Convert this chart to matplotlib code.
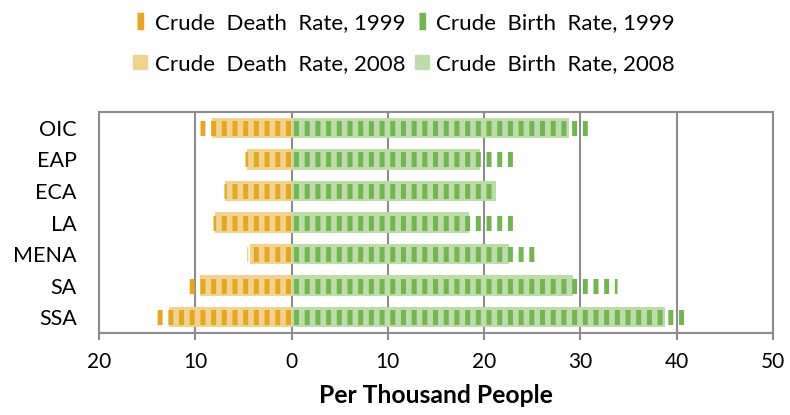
import matplotlib
matplotlib.use("Agg")
import matplotlib.pyplot as plt
from matplotlib.lines import Line2D
from matplotlib.ticker import FuncFormatter
import numpy as np

plt.rcParams['font.family'] = ['Lato', 'DejaVu Sans']
plt.rcParams['lines.scale_dashes'] = False

regiones = ['OIC', 'EAP', 'ECA', 'LA', 'MENA', 'SA', 'SSA']
muerte_1999 = [9.5, 4.8, 7.0, 8.2, 4.6, 11.0, 14.4]
muerte_2008 = [8.3, 4.6, 6.9, 7.9, 4.3, 9.5, 12.7]
natalidad_1999 = [31.1, 23.2, 20.9, 23.2, 25.5, 33.8, 41.1]
natalidad_2008 = [28.8, 19.6, 21.2, 18.4, 22.6, 29.2, 38.8]

naranja = '#E6A71E'
naranja_claro = '#F2D38E'
verde = '#72B650'
verde_claro = '#BCDCA9'
gris = '#8C8C8C'

fig = plt.figure(figsize=(7.9, 4.15), dpi=100)
ax = fig.add_axes([0.1253, 0.1976, 0.8532, 0.5325])

y = np.arange(len(regiones))

# barras 2008 (claras, detras)
ax.barh(y, [-v for v in muerte_2008], height=0.65, color=naranja_claro, zorder=2)
ax.barh(y, natalidad_2008, height=0.65, color=verde_claro, zorder=2)

# barras 1999 (rayadas, encima)
rayas = (6.6, (3.6, 4.1))
for i in range(len(regiones)):
    ax.plot([0, -muerte_1999[i]], [y[i], y[i]], color=naranja, lw=10.8,
            linestyle=rayas, dash_capstyle='butt', zorder=3)
    ax.plot([0, natalidad_1999[i]], [y[i], y[i]], color=verde, lw=10.8,
            linestyle=rayas, dash_capstyle='butt', zorder=3)

ax.set_xlim(-20, 50)
ax.set_ylim(6.5, -0.5)
ax.set_xticks(np.arange(-20, 51, 10))
ax.xaxis.set_major_formatter(FuncFormatter(lambda v, p: f'{abs(v):.0f}'))
ax.set_yticks(y)
ax.set_yticklabels(regiones)
ax.tick_params(axis='y', length=0, pad=16, labelsize=15.5)
ax.tick_params(axis='x', length=5, width=1.5, color=gris, pad=9, labelsize=15)
ax.grid(axis='x', color=gris, lw=1.5, zorder=1)
ax.set_axisbelow(True)
for s in ax.spines.values():
    s.set_color(gris)
    s.set_linewidth(1.5)
ax.set_xlabel('Per Thousand People', fontsize=17.8, fontweight='bold', labelpad=8)

barra = [(-0.2, -0.5), (0.2, -0.5), (0.2, 0.5), (-0.2, 0.5)]
manejadores = [
    Line2D([], [], marker=barra, ms=11, color=naranja, ls='none'),
    Line2D([], [], marker='s', ms=9.5, color=naranja_claro, ls='none'),
    Line2D([], [], marker=barra, ms=11, color=verde, ls='none'),
    Line2D([], [], marker='s', ms=9.5, color=verde_claro, ls='none'),
]
etiquetas = ['Crude  Death  Rate, 1999', 'Crude  Death  Rate, 2008',
             'Crude  Birth  Rate, 1999', 'Crude  Birth  Rate, 2008']
fig.legend(manejadores, etiquetas, ncol=2, loc='center', bbox_to_anchor=(0.511, 0.895),
           frameon=False, fontsize=16, handlelength=0.7, handletextpad=0.3,
           columnspacing=0.4, labelspacing=0.95)

plt.savefig('out.png', dpi=100)
